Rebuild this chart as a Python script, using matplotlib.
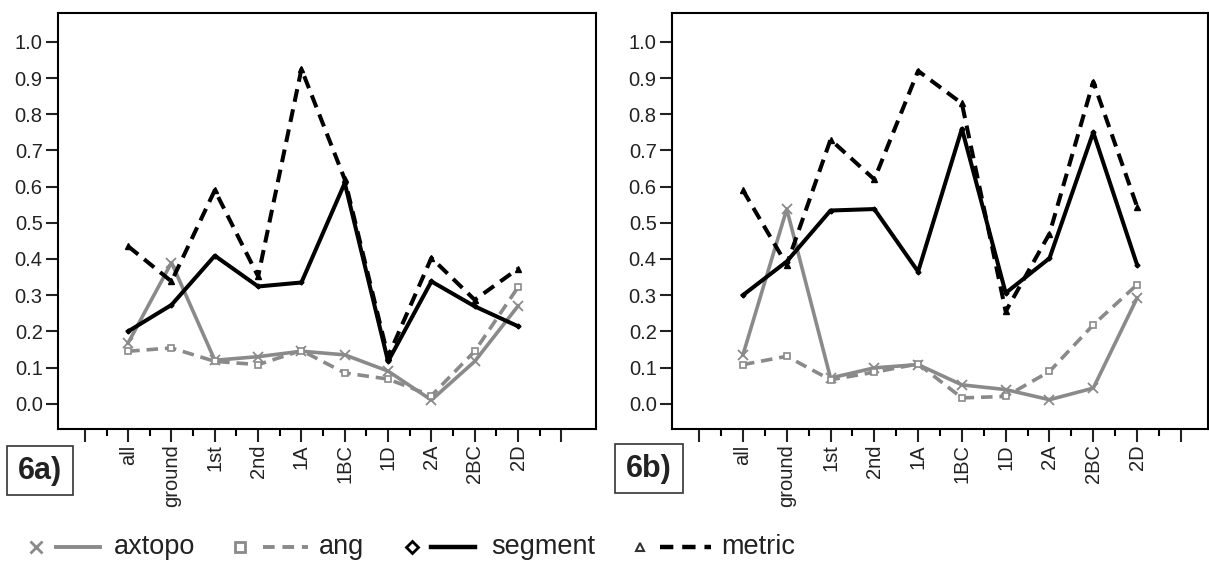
import numpy as np
import matplotlib
matplotlib.use('Agg')
import matplotlib.pyplot as plt
from matplotlib.patches import Rectangle

plt.rcParams['font.family'] = ['Liberation Sans', 'DejaVu Sans']

categories = ['all', 'ground', '1st', '2nd', '1A', '1BC', '1D', '2A', '2BC', '2D']

# panel 6a
axtopo_a = [0.168, 0.39, 0.12, 0.13, 0.145, 0.135, 0.09, 0.01, 0.117, 0.27]
ang_a = [0.145, 0.154, 0.117, 0.108, 0.147, 0.085, 0.068, 0.022, 0.145, 0.322]
segment_a = [0.20, 0.273, 0.409, 0.324, 0.335, 0.61, 0.117, 0.338, 0.269, 0.214]
metric_a = [0.435, 0.338, 0.59, 0.352, 0.925, 0.62, 0.13, 0.403, 0.287, 0.373]

# panel 6b
axtopo_b = [0.135, 0.538, 0.071, 0.099, 0.108, 0.052, 0.039, 0.011, 0.043, 0.292]
ang_b = [0.108, 0.131, 0.066, 0.087, 0.11, 0.016, 0.02, 0.089, 0.218, 0.329]
segment_b = [0.30, 0.393, 0.534, 0.538, 0.365, 0.76, 0.306, 0.402, 0.75, 0.384]
metric_b = [0.59, 0.384, 0.73, 0.62, 0.92, 0.83, 0.255, 0.47, 0.89, 0.545]

yticks = [0.0, 0.1, 0.2, 0.3, 0.4, 0.5, 0.6, 0.7, 0.8, 0.9, 1.0]

gray = '#8a8a8a'
W, H = 1209, 562

fig = plt.figure(figsize=(W / 100, H / 100), dpi=100)


def draw_panel(rect, xlim, axtopo, ang, segment, metric):
    ax = fig.add_axes(rect)
    x = np.arange(len(categories))
    ax.plot(x, axtopo, color=gray, lw=2.6, marker='x', ms=7, mew=1.3)
    ax.plot(x, ang, color=gray, lw=2.6, ls=(0, (3.2, 1.9)), marker='s', ms=4,
            mfc='white', mec=gray, mew=1.2)
    ax.plot(x, segment, color='black', lw=2.9, marker='D', ms=2.5)
    ax.plot(x, metric, color='black', lw=2.9, ls=(0, (3.2, 1.9)), marker='^', ms=4)
    ax.set_xlim(*xlim)
    ax.set_ylim(-0.07, 1.08)
    ax.set_yticks(yticks)
    ax.set_yticklabels(['%.1f' % v for v in yticks])
    major = np.arange(-1, 11)
    ax.set_xticks(major)
    ax.set_xticklabels([categories[i] if 0 <= i < len(categories) else '' for i in major],
                       rotation=90, va='top', ha='center')
    ax.set_xticks(np.arange(-0.5, 10, 1.0), minor=True)
    ax.tick_params(axis='both', which='major', direction='out', length=9, width=1.5,
                   labelsize=14.5, pad=2, colors='#222222')
    ax.tick_params(axis='x', which='minor', direction='out', length=5, width=1.5)
    for s in ax.spines.values():
        s.set_linewidth(1.5)
    return ax


def frac(l, t, r, b):
    return [l / W, 1 - b / H, (r - l) / W, (b - t) / H]


draw_panel(frac(58, 13, 596, 429), (-1.62, 10.8), axtopo_a, ang_a, segment_a, metric_a)
draw_panel(frac(672, 13, 1208, 429), (-1.62, 10.62), axtopo_b, ang_b, segment_b, metric_b)

# overlay in pixel coordinates for panel labels and legend
ov = fig.add_axes([0, 0, 1, 1], facecolor='none')
ov.set_xlim(0, W)
ov.set_ylim(H, 0)
ov.axis('off')

for (l, t, r, b), lab in [((7, 446, 73, 495), '6a)'), ((615, 444, 683, 493), '6b)')]:
    ov.add_patch(Rectangle((l, t), r - l, b - t, fill=False, lw=1.2, ec='#333333'))
    ov.text((l + r) / 2, (t + b) / 2 + 1, lab, fontsize=22, fontweight='bold',
            ha='center', va='center', color='#222222')

ly = 547
ov.plot([36], [ly], color=gray, marker='x', ms=8, mew=2)
ov.plot([56, 100], [ly, ly], color=gray, lw=2.8)
ov.text(114, ly, 'axtopo', fontsize=19.5, va='center', color='#222222')

ov.plot([240], [ly], color=gray, marker='s', ms=7, mfc='white', mec=gray, mew=2)
ov.plot([263, 308], [ly, ly], color=gray, lw=2.8, ls=(0, (3, 2)))
ov.text(319, ly, 'ang', fontsize=19.5, va='center', color='#222222')

ov.plot([412], [ly], color='black', marker='D', ms=6, mfc='white', mec='black', mew=2)
ov.plot([431, 475], [ly, ly], color='black', lw=3.2)
ov.text(491, ly, 'segment', fontsize=19.5, va='center', color='#222222')

ov.plot([640], [ly], color='black', marker='^', ms=6, mfc='white', mec='#333333', mew=1.5)
ov.plot([660, 711], [ly, ly], color='black', lw=3.2, ls=(0, (3, 2)))
ov.text(721, ly, 'metric', fontsize=19.5, va='center', color='#222222')

fig.savefig('out.png', dpi=100)
